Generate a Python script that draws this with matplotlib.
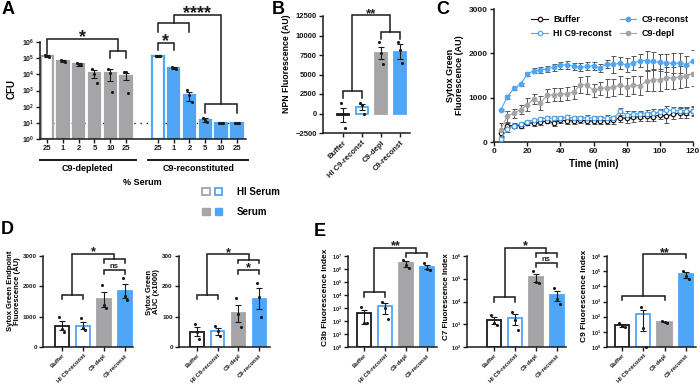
import numpy as np
import matplotlib
matplotlib.use('Agg')
import matplotlib.pyplot as plt
from matplotlib.patches import Patch
from matplotlib.legend_handler import HandlerTuple
from matplotlib.ticker import FuncFormatter, NullLocator

plt.rcParams['font.family'] = ['Liberation Sans', 'DejaVu Sans']
plt.rcParams['font.weight'] = 'bold'
plt.rcParams['axes.labelweight'] = 'bold'
plt.rcParams['mathtext.fontset'] = 'custom'
plt.rcParams['mathtext.rm'] = 'Liberation Sans:bold'
plt.rcParams['mathtext.bf'] = 'Liberation Sans:bold'
plt.rcParams['mathtext.it'] = 'Liberation Sans:bold'
plt.rcParams['mathtext.default'] = 'rm'

GRAY = '#a5a5a8'
BLUE = '#4fa6f7'
INK = '#1a1a1a'

# ---- A: CFU after serum exposure (first bar of each group = heat-inactivated 25%)
serum_depl = ['25', '1', '2', '5', '10', '25']
serum_recon = ['25', '1', '2', '5', '10', '25']
cfu_depl = [1.35e5, 6.6e4, 4.2e4, 1.2e4, 1.2e4, 8.3e3]
cfu_depl_err = [2.0e4, 1.2e4, 7e3, 6e3, 8e3, 4e3]
cfu_depl_pts = [[1.6e5, 1.3e5, 1.2e5], [8e4, 6.5e4, 5.5e4], [5e4, 3.6e4, 3.6e4],
                [2e4, 1.1e4, 2.8e3], [2.1e4, 1.2e4, 7.8e2], [1.3e4, 1.3e4, 6.8e2]]
cfu_recon = [1.35e5, 2.4e4, 5.3e2, 15, 10, 10]
cfu_recon_err = [1.2e4, 4e3, 3e2, 4, 0, 0]
cfu_recon_pts = [[1.45e5, 1.3e5, 1.3e5], [2.8e4, 2.5e4, 2e4], [1.1e3, 5.6e2, 2e2],
                 [20, 15, 12], [10, 10, 10], [10, 10, 10]]
cfu_limit = 10

# ---- B-E: four conditions
groups = ['Buffer', 'HI C9-reconst', 'C9-depl', 'C9-reconst']

npn = [-170, 800, 7770, 7930]
npn_err = [900, 400, 800, 960]
npn_pts = [[1300, 0, -1800], [1300, 1100, 0], [9200, 7700, 6400], [9200, 8140, 6430]]

# ---- C: Sytox green kinetics
time_min = [4, 8, 12, 16, 20, 24, 28, 32, 36, 40, 44, 48, 52, 56, 60,
            64, 68, 72, 76, 80, 84, 88, 92, 96, 100, 104, 108, 112, 116, 120]
sytox_buffer = [200, 370, 370, 370, 430, 430, 440, 480, 430, 490, 480, 480, 490, 475, 475,
                480, 480, 490, 550, 535, 555, 570, 580, 565, 615, 580, 630, 655, 655, 700]
sytox_buffer_err = [100, 60, 50, 50, 50, 60, 60, 60, 60, 60, 70, 70, 70, 70, 70,
                    70, 80, 80, 100, 100, 100, 100, 100, 100, 100, 150, 100, 120, 120, 120]
sytox_hi = [70, 290, 370, 410, 460, 490, 520, 535, 540, 535, 565, 540, 535, 550, 540,
            540, 550, 540, 690, 615, 630, 630, 640, 655, 675, 715, 715, 705, 700, 700]
sytox_hi_err = [50, 60, 40, 40, 40, 40, 50, 50, 50, 50, 50, 50, 50, 50, 50,
                50, 50, 50, 80, 80, 80, 80, 80, 80, 80, 100, 80, 80, 80, 80]
sytox_recon = [714, 1020, 1210, 1300, 1530, 1610, 1625, 1650, 1685, 1730, 1745, 1705, 1685, 1705, 1715,
               1670, 1760, 1750, 1780, 1735, 1780, 1835, 1835, 1820, 1795, 1780, 1780, 1780, 1745, 1835]
sytox_recon_err = [20, 50, 40, 40, 40, 60, 60, 60, 80, 80, 90, 80, 90, 90, 100,
                   90, 100, 200, 130, 150, 150, 150, 220, 200, 200, 200, 220, 220, 200, 250]
sytox_depl = [280, 580, 650, 730, 840, 970, 880, 1050, 1070, 1075, 1090, 1120, 1290, 1290, 1165,
              1210, 1220, 1230, 1290, 1240, 1285, 1270, 1370, 1405, 1405, 1445, 1450, 1465, 1495, 1540]
sytox_depl_err = [150, 120, 100, 100, 150, 120, 150, 150, 150, 150, 150, 150, 180, 200, 150,
                  150, 200, 200, 200, 200, 200, 220, 230, 250, 250, 250, 250, 250, 250, 280]

# ---- D: endpoint and AUC
endpoint = [697, 707, 1570, 1837]
endpoint_err = [150, 120, 250, 230]
endpoint_pts = [[990, 600, 500], [940, 620, 560], [2040, 1380, 1290], [2290, 1680, 1540]]
auc = [51, 52, 111, 159]
auc_err = [15, 12, 27, 35]
auc_pts = [[75, 50, 28], [70, 52, 35], [160, 108, 66], [212, 165, 100]]

# ---- E: deposition indices
c3b = [413, 1358, 2.7e6, 1.53e6]
c3b_err = [350, 1000, 1.2e6, 6e5]
c3b_pts = [[1100, 70, 70], [3000, 920, 155], [5e6, 2e6, 1.1e6], [2.8e6, 9.5e5, 8.5e5]]
c7 = [1500, 1850, 1.19e5, 1.97e4]
c7_err = [500, 900, 5e4, 9e3]
c7_pts = [[2500, 1080, 910], [3500, 1500, 550], [2.2e5, 7.4e4, 6.3e4], [3.8e4, 1.35e4, 7.6e3]]
c9 = [28, 146, 45, 6.2e4]
c9_err = [6, 135, 3, 2.6e4]
c9_pts = [[39, 23, 21], [420, 18, 1], [50, 45, 40], [1.1e5, 4.8e4, 2.9e4]]

FACES = ['white', 'white', GRAY, BLUE]
EDGES = [INK, BLUE, GRAY, BLUE]

fig = plt.figure(figsize=(7, 3.89), dpi=100)


def px_axes(l, t, r, b):
    return fig.add_axes([l / 700, 1 - b / 389, (r - l) / 700, (b - t) / 389])


def style(ax, fs):
    for s in ('top', 'right'):
        ax.spines[s].set_visible(False)
    for s in ('left', 'bottom'):
        ax.spines[s].set_linewidth(1.1)
        ax.spines[s].set_color(INK)
    ax.tick_params(labelsize=fs, width=1.0, length=3, pad=1.5, colors=INK)


def log_axis(ax, lo, hi, fs):
    ax.set_yscale('log')
    ax.set_ylim(10.0 ** lo, 10.0 ** hi)
    ax.set_yticks(10.0 ** np.arange(lo, hi + 1))
    ax.yaxis.set_major_formatter(FuncFormatter(lambda v, p: '$10^{%d}$' % round(np.log10(v))))
    ax.yaxis.set_minor_locator(NullLocator())
    ax.tick_params(axis='y', labelsize=fs, pad=1)


def bars(ax, x, means, errs, pts, faces, edges, width, bottom=0.0, lw=1.3):
    x = np.asarray(x, float)
    means = np.asarray(means, float)
    errs = np.asarray(errs, float)
    ax.bar(x, means - bottom, width, bottom=bottom, color=faces, edgecolor=edges,
           linewidth=lw, zorder=2)
    lower = np.minimum(errs, means - bottom * 1.0001) if bottom > 0 else errs
    ax.errorbar(x, means, yerr=[lower, errs], fmt='none', ecolor=INK, elinewidth=0.8,
                capsize=2, capthick=0.8, zorder=3, clip_on=False)
    offs = np.array([-0.12, 0.0, 0.12]) * width / 0.65
    for xi, p in zip(x, pts):
        ax.scatter(xi + offs[:len(p)], p, s=5, color=INK, linewidths=0, zorder=4, clip_on=False)


def link(ax, xa, ya, xb, yb, ytop, lw=1.1):
    # legs from (xa, ya) and (xb, yb) up to a bar at ytop
    ax.plot([xa, xa, xb, xb], [ya, ytop, ytop, yb], color=INK, lw=lw, clip_on=False,
            solid_joinstyle='miter', zorder=5)


def mark(ax, x, y, s, fs, dy=0.0):
    ax.annotate(s, xy=(x, y), xytext=(0, dy), textcoords='offset points', ha='center',
                va='baseline', fontsize=fs, fontweight='bold', color=INK, annotation_clip=False)


def group_xticks(ax, fs):
    ax.set_xticks(range(len(groups)))
    ax.set_xticklabels(groups, rotation=45, ha='right', rotation_mode='anchor', fontsize=fs)


def ylabel(ax, text, px, py, fs):
    l, b, w, h = ax.get_position().bounds
    ax.set_ylabel(text, fontsize=fs, va='center', ha='center', linespacing=1.1)
    ax.yaxis.set_label_coords((px / 700 - l) / w, ((1 - py / 389) - b) / h)


L = lambda v: 10.0 ** v

# ================= A =================
axA = px_axes(40, 42, 246, 139)
style(axA, 5.5)
xA = np.r_[np.arange(6), np.arange(7, 13)]
facesA = ['white'] + [GRAY] * 5 + ['white'] + [BLUE] * 5
edgesA = [GRAY] * 6 + [BLUE] * 6
bars(axA, xA, cfu_depl + cfu_recon, cfu_depl_err + cfu_recon_err, cfu_depl_pts + cfu_recon_pts,
     facesA, edgesA, 0.72, bottom=1.0, lw=1.6)
log_axis(axA, 0, 6, 5)
axA.axhline(cfu_limit, color=INK, lw=1.0, ls=(0, (1, 3.5)), zorder=1)
axA.set_xlim(-0.44, 12.57)
axA.set_xticks(xA)
axA.set_xticklabels(serum_depl + serum_recon)
ylabel(axA, 'CFU', 12, 89, 7)
trA = axA.get_xaxis_transform()
for x0, x1, name in ((-0.44, 5.6, 'C9-depleted'), (6.4, 12.7, 'C9-reconstituted')):
    axA.plot([x0, x1], [-0.216, -0.216], color=INK, lw=1.4, transform=trA, clip_on=False)
    axA.text((x0 + x1) / 2, -0.30, name, transform=trA, ha='center', va='center', fontsize=6.5)
axA.text(6.0, -0.45, '% Serum', transform=trA, ha='center', va='center', fontsize=6.5)
# significance brackets
link(axA, 4, L(4.99), 5, L(4.99), L(5.46))
link(axA, 0, L(5.25), 4.5, L(5.46), L(6.17))
mark(axA, 2.25, L(6.17), '*', 13, -2.0)
link(axA, 7, L(5.5), 8, L(5.5), L(5.92))
mark(axA, 7.5, L(5.92), '*', 13, -2.0)
link(axA, 7, L(6.6), 9, L(6.6), L(7.15))
link(axA, 10, L(1.6), 12, L(1.6), L(2.15))
link(axA, 8, L(7.15), 11, L(2.15), L(7.67))
mark(axA, 9.5, L(7.67), '****', 13, -2.0)

# legend for A
hi_h = (Patch(facecolor='white', edgecolor=GRAY, lw=1.3), Patch(facecolor='white', edgecolor=BLUE, lw=1.3))
se_h = (Patch(facecolor=GRAY, edgecolor=GRAY), Patch(facecolor=BLUE, edgecolor=BLUE))
fig.legend([hi_h, se_h], ['HI Serum', 'Serum'], handler_map={tuple: HandlerTuple(ndivide=None, pad=0.5)},
           loc='center left', bbox_to_anchor=(202 / 700, 1 - 202 / 389), frameon=False,
           fontsize=7, handlelength=2.1, handleheight=0.75, handletextpad=1.5, labelspacing=1.0,
           borderaxespad=0, borderpad=0)

# ================= B =================
axB = px_axes(323, 16, 410, 133)
style(axB, 5.5)
bars(axB, range(4), npn, npn_err, npn_pts, FACES, EDGES, 0.65)
axB.set_xlim(-1.05, 3.53)
axB.set_ylim(-2500, 12500)
axB.set_yticks(np.arange(-2500, 12501, 2500))
group_xticks(axB, 5.5)
ylabel(axB, 'NPN Fluorescence (AU)', 286, 64, 6.3)
link(axB, 0, 1950, 1, 1950, 2880)
link(axB, 2, 9510, 3, 9510, 10490)
link(axB, 0.5, 2880, 2.5, 10490, 12630)
mark(axB, 1.5, 12630, '**', 9.5, -1.5)

# ================= C =================
axC = px_axes(494, 9, 693, 142)
style(axC, 6)
series = [
    ('Buffer', sytox_buffer, sytox_buffer_err, INK, 'white'),
    ('HI C9-reconst', sytox_hi, sytox_hi_err, BLUE, 'white'),
    ('C9-reconst', sytox_recon, sytox_recon_err, BLUE, BLUE),
    ('C9-depl', sytox_depl, sytox_depl_err, GRAY, GRAY),
]
handles = []
for name, y, e, col, face in series:
    axC.errorbar(time_min, y, yerr=e, fmt='none', ecolor='#555555', elinewidth=0.7,
                 capsize=1.8, capthick=0.7, zorder=2)
    h, = axC.plot(time_min, y, color=col, lw=0.8, marker='o', ms=3.2, mfc=face, mec=col,
                  mew=0.9, zorder=3, label=name)
    handles.append(h)
axC.set_xlim(0, 120)
axC.set_ylim(0, 3000)
axC.set_xticks(np.arange(0, 121, 20))
axC.set_yticks(np.arange(0, 3001, 1000))
axC.set_xlabel('Time (min)', fontsize=7, labelpad=3)
ylabel(axC, 'Sytox Green\nFluorescence (AU)', 455, 75, 6.5)
axC.legend(handles, [h.get_label() for h in handles], ncol=2, frameon=False, fontsize=6.5,
           loc='upper left', bbox_to_anchor=(0.17, 0.98), handlelength=1.8, handletextpad=0.6,
           columnspacing=0.9, labelspacing=0.5, borderaxespad=0)

# ================= D =================
axD1 = px_axes(43, 256, 133, 347)
style(axD1, 4.5)
bars(axD1, range(4), endpoint, endpoint_err, endpoint_pts, FACES, EDGES, 0.63)
axD1.set_xlim(-0.9, 3.38)
axD1.set_ylim(0, 3000)
axD1.set_yticks(np.arange(0, 3001, 1000))
group_xticks(axD1, 4.2)
ylabel(axD1, 'Sytox Green Endpoint\nFluorescence (AU)', 14, 291, 5.5)
link(axD1, 0, 1578, 1, 1578, 1710)
link(axD1, 2, 2760, 3, 2760, 2890)
link(axD1, 0.5, 1710, 2.5, 2890, 3066)
mark(axD1, 1.5, 3066, '*', 9, -1.2)
link(axD1, 2, 2405, 3, 2405, 2537)
mark(axD1, 2.5, 2537, 'ns', 5.5, 1.5)

axD2 = px_axes(179, 256, 270, 347)
style(axD2, 4.5)
bars(axD2, range(4), auc, auc_err, auc_pts, FACES, EDGES, 0.63)
axD2.set_xlim(-0.87, 3.53)
axD2.set_ylim(0, 300)
axD2.set_yticks(np.arange(0, 301, 100))
group_xticks(axD2, 4.2)
ylabel(axD2, 'Sytox Green\nAUC (x1000)', 153, 292, 5.5)
link(axD2, 0, 158, 1, 158, 171)
link(axD2, 2, 276, 3, 276, 287)
link(axD2, 0.5, 171, 2.5, 287, 306)
mark(axD2, 1.5, 306, '*', 9, -1.2)
link(axD2, 2, 240, 3, 240, 254)
mark(axD2, 2.5, 254, '*', 9, -1.2)

# ================= E =================
axE1 = px_axes(348, 256, 437, 347)
style(axE1, 4.5)
bars(axE1, range(4), c3b, c3b_err, c3b_pts, FACES, EDGES, 0.67, bottom=1.0)
log_axis(axE1, 0, 7, 4)
axE1.set_xlim(-0.76, 3.48)
group_xticks(axE1, 4.2)
ylabel(axE1, 'C3b Fluorescence Index', 326, 297, 6)
link(axE1, 0, L(3.86), 1, L(3.86), L(4.25))
link(axE1, 2, L(6.95), 3, L(6.95), L(7.26))
link(axE1, 0.5, L(4.25), 2.5, L(7.26), L(7.64))
mark(axE1, 1.5, L(7.64), '**', 9, -1.2)

axE2 = px_axes(467, 256, 566, 347)
style(axE2, 4.5)
bars(axE2, range(4), c7, c7_err, c7_pts, FACES, EDGES, 0.67, bottom=100.0)
log_axis(axE2, 2, 6, 4)
axE2.set_xlim(-1.29, 3.43)
group_xticks(axE2, 4.2)
ylabel(axE2, 'C7 Fluorescence Index', 447, 297, 5.8)
link(axE2, 0, L(3.99), 1, L(3.99), L(4.18))
link(axE2, 2, L(5.97), 3, L(5.97), L(6.15))
link(axE2, 0.5, L(4.18), 2.5, L(6.15), L(6.37))
mark(axE2, 1.5, L(6.37), '*', 9, -1.2)
link(axE2, 2, L(5.53), 3, L(5.53), L(5.7))
mark(axE2, 2.5, L(5.7), 'ns', 5.5, 1.5)

axE3 = px_axes(607, 256, 696, 347)
style(axE3, 4.5)
bars(axE3, range(4), c9, c9_err, c9_pts, FACES, EDGES, 0.67, bottom=1.0)
log_axis(axE3, 0, 6, 4)
axE3.set_xlim(-0.7, 3.47)
group_xticks(axE3, 4.2)
ylabel(axE3, 'C9 Fluorescence Index', 584, 296, 6)
link(axE3, 0, L(3.09), 2, L(3.09), L(3.36))
link(axE3, 1, L(3.36), 3, L(5.85), L(6.13))
mark(axE3, 2.0, L(6.13), '**', 9, -1.2)

# panel letters
for letter, px, py in (('A', 8, 10), ('B', 278, 9), ('C', 443, 9), ('D', 7, 229), ('E', 320, 232)):
    fig.text(px / 700, 1 - py / 389, letter, fontsize=13, fontweight='bold', ha='center', va='center')

fig.savefig('out.png', dpi=100)
